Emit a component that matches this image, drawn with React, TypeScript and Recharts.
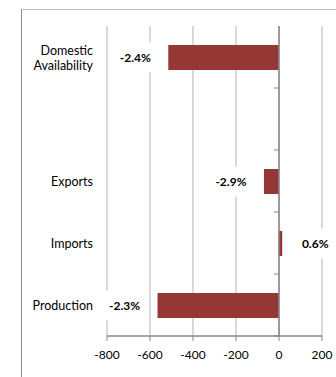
import { Bar, BarChart, CartesianGrid, LabelList, ReferenceLine, XAxis, YAxis } from "recharts";

const CATEGORIES = ["Domestic Availability", " ", "Exports", "Imports", "Production"];
const VALUES: (number | null)[] = [-515, null, -70, 15, -565];
const PCT_LABELS = ["-2.4%", "", "-2.9%", "0.6%", "-2.3%"];
const X_TICKS = [-800, -600, -400, -200, 0, 200];

const BAR = "#953735";
const GRID = "#BFBFBF";
const AXIS = "#868686";
const FONT = "Lato, 'Liberation Sans', sans-serif";

const data = CATEGORIES.map((name, i) => ({ name, value: VALUES[i], label: PCT_LABELS[i] }));

function CategoryTick(props: any) {
  const { x, y, payload } = props;
  const words = String(payload.value).trim() === "" ? [] : String(payload.value).split(" ");
  const lh = 15;
  const start = y - ((words.length - 1) * lh) / 2;
  return (
    <text x={x} y={start} textAnchor="end" fontSize={12.5} fill="#000" fontFamily={FONT} dominantBaseline="central">
      {words.map((l, i) => (
        <tspan key={i} x={x} y={start + i * lh}>
          {l}
        </tspan>
      ))}
    </text>
  );
}

function PctLabel(props: any) {
  const vb = props.viewBox ?? props;
  const { x, y, width, height } = vb;
  const text = props.value;
  const idx = PCT_LABELS.indexOf(text);
  const v = idx >= 0 ? VALUES[idx] : null;
  if (!text || v == null || x == null) return null;
  const left = Math.min(x, x + width);
  const right = Math.max(x, x + width);
  const cy = y + height / 2;
  const cx = v < 0 ? left - 33 : right + 33;
  return (
    <g>
      <rect x={cx - 24} y={cy - 15} width={48} height={30} fill="#fff" />
      <text x={cx} y={cy} textAnchor="middle" dominantBaseline="central" fontSize={12} fontWeight="bold" fill="#000" fontFamily={FONT}>
        {text}
      </text>
    </g>
  );
}

function ZeroAxis(props: any) {
  const { x1, y1, y2 } = props;
  const n = CATEGORIES.length;
  const step = (y2 - y1) / n;
  const ticks = [];
  for (let i = 0; i < n; i++) {
    const ty = y1 + i * step;
    ticks.push(<line key={i} x1={x1 - 5} x2={x1} y1={ty} y2={ty} stroke={AXIS} strokeWidth={1} />);
  }
  return (
    <g>
      <line x1={x1} x2={x1} y1={y1} y2={y2} stroke={AXIS} strokeWidth={1.5} />
      {ticks}
    </g>
  );
}

export default function App() {
  return (
    <div style={{ position: "absolute", left: 0, top: 0, width: 336, height: 377, overflow: "hidden", background: "#fff" }}>
      <div
        style={{
          position: "absolute",
          left: 21,
          top: 9,
          width: 340,
          height: 400,
          borderTop: "1px solid #C0C0C0",
          borderLeft: "1px solid #8C8C8C",
        }}
      />
      <div style={{ position: "absolute", left: 0, top: 0 }}>
        <BarChart
          width={336}
          height={377}
          data={data}
          layout="vertical"
          margin={{ top: 26, right: 14, left: 10, bottom: 11 }}
          barSize={25}
        >
          <CartesianGrid horizontal={false} stroke={GRID} strokeWidth={1.2} />
          <XAxis
            type="number"
            domain={[-800, 200]}
            ticks={X_TICKS}
            allowDataOverflow
            height={30}
            axisLine={{ stroke: AXIS, strokeWidth: 1.5 }}
            tickLine={{ stroke: AXIS }}
            tickSize={5}
            tickMargin={9}
            tick={{ fontSize: 12, fill: "#000", fontFamily: FONT }}
          />
          <YAxis
            type="category"
            dataKey="name"
            width={97}
            axisLine={false}
            tickLine={false}
            tickSize={0}
            tickMargin={14}
            interval={0}
            tick={<CategoryTick />}
          />
          <Bar dataKey="value" fill={BAR} isAnimationActive={false}>
            <LabelList dataKey="label" content={<PctLabel />} />
          </Bar>
          <ReferenceLine x={0} shape={<ZeroAxis />} />
        </BarChart>
      </div>
    </div>
  );
}
